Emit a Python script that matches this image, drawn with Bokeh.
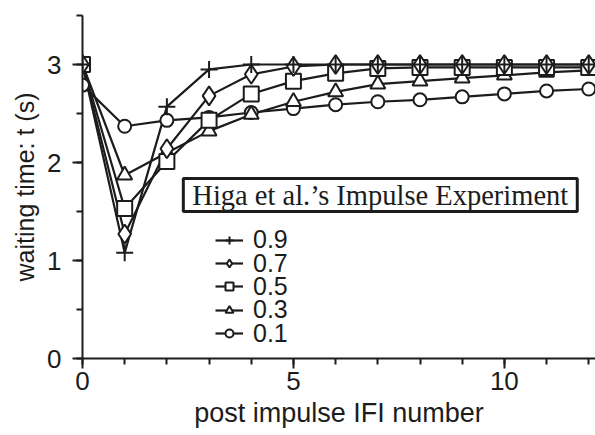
from bokeh.plotting import figure
from bokeh.models import (Range1d, SingleIntervalTicker, Legend, LegendItem, Label)
from bokeh.embed import file_html
from bokeh.resources import INLINE

# ---- data ----
ifi = list(range(13))
labels = ["0.9", "0.7", "0.5", "0.3", "0.1"]
w09 = [3.00, 1.08, 2.57, 2.95, 3.00, 3.00, 3.00, 3.00, 3.00, 3.00, 3.00, 3.00, 3.00]
w07 = [3.00, 1.27, 2.14, 2.68, 2.90, 2.98, 3.00, 3.00, 3.00, 3.00, 3.00, 3.00, 3.00]
w05 = [3.00, 1.53, 2.01, 2.43, 2.70, 2.83, 2.91, 2.96, 2.97, 2.97, 2.97, 2.97, 2.97]
w03 = [3.00, 1.87, 2.10, 2.32, 2.49, 2.62, 2.72, 2.80, 2.83, 2.86, 2.89, 2.92, 2.94]
w01 = [2.79, 2.37, 2.43, 2.46, 2.51, 2.55, 2.59, 2.62, 2.64, 2.67, 2.70, 2.73, 2.75]
series = [w09, w07, w05, w03, w01]
markers = ["cross", "diamond", "square", "triangle", "circle"]
msizes = [17, 19, 15, 15, 13]

INK = "#1c1c1c"
SANS = "Liberation Sans"
SERIF = "Liberation Serif"

p = figure(frame_width=513, frame_height=343, output_backend="svg",
           toolbar_location=None, x_range=Range1d(0, 12.16), y_range=Range1d(0, 3.5))
p.min_border_top = 15
p.min_border_left = 82
p.min_border_right = 0
p.min_border_bottom = 60
p.outline_line_color = None
p.background_fill_color = "white"
p.border_fill_color = "white"
p.xgrid.visible = False
p.ygrid.visible = False

p.xaxis.ticker = SingleIntervalTicker(interval=5, num_minor_ticks=5)
p.yaxis.ticker = SingleIntervalTicker(interval=1, num_minor_ticks=2)
for ax in (p.xaxis[0], p.yaxis[0]):
    ax.axis_line_color = INK
    ax.axis_line_width = 2
    ax.major_tick_line_color = INK
    ax.major_tick_line_width = 2
    ax.minor_tick_line_color = INK
    ax.minor_tick_line_width = 2
    ax.major_tick_in = 0
    ax.major_tick_out = 10
    ax.minor_tick_in = 0
    ax.minor_tick_out = 6
    ax.major_label_text_font = SANS
    ax.major_label_text_font_size = "26px"
    ax.major_label_text_color = INK
    ax.axis_label_text_font = SANS
    ax.axis_label_text_font_style = "normal"
    ax.axis_label_text_color = INK

p.xaxis.axis_label = "post impulse IFI number"
p.xaxis.axis_label_text_font_size = "27px"
p.xaxis.major_label_standoff = 3
p.xaxis.axis_label_standoff = 5
p.yaxis.axis_label = "waiting time: t (s)"
p.yaxis.axis_label_text_font_size = "25px"
p.yaxis.major_label_standoff = 11
p.yaxis.axis_label_standoff = 5

line_renderers = []
for ys in series:
    line_renderers.append(p.line(ifi, ys, line_color=INK, line_width=2.2))
scatter_renderers = [None] * len(series)
for i in reversed(range(len(series))):
    scatter_renderers[i] = p.scatter(ifi, series[i], marker=markers[i], size=msizes[i],
                                     line_color=INK, line_width=2, fill_color="white")

# one legend per row so that the row pitch matches the reference
row_pitch = 23.3
for i, lab in enumerate(labels):
    k = len(labels) - 1 - i
    lg = Legend(items=[LegendItem(label=lab, renderers=[line_renderers[i], scatter_renderers[i]])],
                location=(133, 10.5 + k * row_pitch), orientation="vertical",
                label_text_font=SANS, label_text_font_size="25px",
                label_text_color=INK, glyph_width=28, glyph_height=20,
                label_height=20, label_standoff=10, spacing=0, padding=0,
                margin=0, border_line_color=None, background_fill_alpha=0)
    p.add_layout(lg, "center")

title_box = Label(x=2.39, y=1.668, text="Higa et al.\u2019s Impulse Experiment",
                  text_font=SERIF, text_font_size="28.5px", text_color=INK,
                  text_align="left", text_baseline="middle",
                  padding=(9, 1), border_line_color=INK, border_line_width=3,
                  background_fill_color="white")
p.add_layout(title_box)

open("out.html", "w").write(file_html(p, INLINE))
